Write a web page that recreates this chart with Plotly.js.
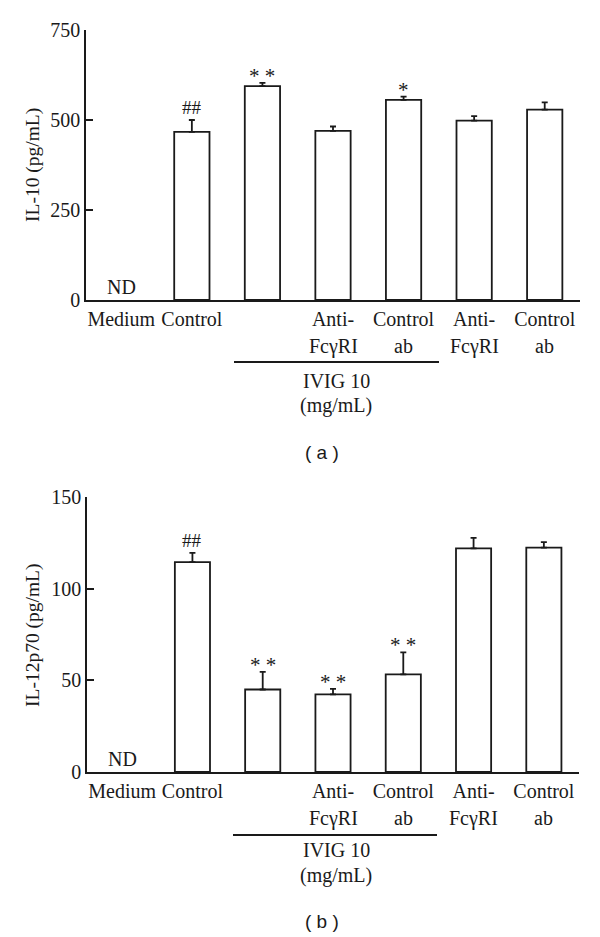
<!DOCTYPE html>
<html>
<head>
<meta charset="utf-8">
<script src="https://cdn.plot.ly/plotly-3.0.1.min.js"></script>
<style>
  body { margin: 0; background: #fff; }
  #chart { width: 600px; height: 937px; }
</style>
</head>
<body>
<div id="chart"></div>
<script>
// categories (one per bar position)
const groups = ["Medium", "Control", "IVIG", "IVIG + Anti-FcγRI", "IVIG + Control ab", "Anti-FcγRI", "Control ab"]
// tick labels are two rows; the second row is drawn as notes under the first
const tick_row1 = ["Medium", "Control", "", "Anti-", "Control", "Anti-", "Control"]
const tick_row2 = ["", "", "", "FcγRI", "ab", "FcγRI", "ab"]

// panel (a) IL-10, medium is not detected
const il10_mean = [null, 467, 594, 470, 556, 498, 529]
const il10_err = [0, 33, 9, 12, 9, 13, 20]
const il10_marks = ["", "##", "* *", "", "*", "", ""]
const il10_ticks = [0, 250, 500, 750]

// panel (b) IL-12p70
const il12_mean = [null, 114.5, 45, 42.3, 53.3, 122, 122.4]
const il12_err = [0, 5, 9.6, 3, 12, 5.7, 3]
const il12_marks = ["", "##", "* *", "* *", "* *", "", ""]
const il12_ticks = [0, 50, 100, 150]

const W = 600, H = 937
const px = (x) => x / W
const py = (y) => 1 - y / H
const SERIF = "Liberation Serif, Times New Roman, serif"
const SANS = "Liberation Sans, Arial, sans-serif"
const BLACK = "#1a1a1a"
const FS = 20

const bar_trace = (y, err, xa, ya) => ({
    type: "bar",
    x: groups,
    y: y,
    xaxis: xa,
    yaxis: ya,
    width: 0.5,
    marker: { color: "white", line: { color: BLACK, width: 1.8 } },
    error_y: {
        type: "data",
        symmetric: false,
        array: err,
        arrayminus: err.map(() => 0),
        color: BLACK,
        thickness: 1.8,
        width: 3
    },
    hoverinfo: "none"
})

const x_axis = (anchor, domain) => ({
    domain: domain,
    anchor: anchor,
    type: "category",
    categoryorder: "array",
    categoryarray: groups,
    range: [-0.5, 6.5],
    tickvals: groups,
    ticktext: tick_row1,
    ticks: "",
    showline: true,
    linecolor: BLACK,
    linewidth: 1.8,
    showgrid: false,
    zeroline: false,
    tickfont: { family: SERIF, size: FS, color: BLACK },
    fixedrange: true
})

const y_axis = (anchor, domain, ticks) => ({
    domain: domain,
    anchor: anchor,
    range: [0, ticks[ticks.length - 1]],
    tickvals: ticks,
    ticks: "inside",
    ticklen: 7,
    tickwidth: 1.8,
    tickcolor: BLACK,
    showline: true,
    linecolor: BLACK,
    linewidth: 1.8,
    showgrid: false,
    zeroline: false,
    tickfont: { family: SERIF, size: FS, color: BLACK },
    fixedrange: true
})

// significance marks sit on top of the error bars
const mark_notes = (marks, mean, err, xr, yr) => marks.map((m, i) => ({
    x: groups[i],
    y: mean[i] + err[i],
    xref: xr,
    yref: yr,
    text: m,
    showarrow: false,
    yanchor: "bottom",
    yshift: m.startsWith("*") ? -7 : 0,
    font: { family: SERIF, size: m.startsWith("*") ? 21 : 19, color: BLACK }
})).filter(a => a.text !== "")

const row2_notes = (xr, y) => tick_row2.map((t, i) => ({
    x: groups[i], y: y, xref: xr, yref: "paper",
    text: t, showarrow: false, yanchor: "middle",
    font: { family: SERIF, size: FS, color: BLACK }
})).filter(a => a.text !== "")

const text_note = (text, x, y, size, extra) => Object.assign({
    x: x, y: y, xref: "paper", yref: "paper",
    text: text, showarrow: false,
    xanchor: "center", yanchor: "middle",
    font: { family: SERIF, size: size, color: BLACK }
}, extra || {})

const annotations = [
    ...mark_notes(il10_marks, il10_mean, il10_err, "x", "y"),
    ...mark_notes(il12_marks, il12_mean, il12_err, "x2", "y2"),
    ...row2_notes("x", py(346)),
    ...row2_notes("x2", py(818)),
    { x: groups[0], y: 0, xref: "x", yref: "y", text: "ND", showarrow: false, yanchor: "bottom",
      font: { family: SERIF, size: FS, color: BLACK } },
    { x: groups[0], y: 0, xref: "x2", yref: "y2", text: "ND", showarrow: false, yanchor: "bottom",
      font: { family: SERIF, size: FS, color: BLACK } },
    text_note("IL-10 (pg/mL)", px(33), py(165), 19.5, { textangle: -90 }),
    text_note("IL-12p70 (pg/mL)", px(33), py(635), 19.5, { textangle: -90 }),
    text_note("IVIG 10", px(336), py(381), FS),
    text_note("(mg/mL)", px(336), py(406), FS),
    text_note("IVIG 10", px(336), py(850), FS),
    text_note("(mg/mL)", px(336), py(875), FS),
    text_note("( a )", px(321.5), py(452), 19, { font: { family: SANS, size: 19, color: BLACK } }),
    text_note("( b )", px(321.5), py(921), 19, { font: { family: SANS, size: 19, color: BLACK } })
]

const shapes = [
    { type: "line", xref: "paper", yref: "paper", x0: px(234), x1: px(439), y0: py(362), y1: py(362),
      line: { color: BLACK, width: 1.8 } },
    { type: "line", xref: "paper", yref: "paper", x0: px(233), x1: px(437), y0: py(835), y1: py(835),
      line: { color: BLACK, width: 1.8 } }
]

const layout = {
    width: W,
    height: H,
    margin: { l: 0, r: 0, t: 0, b: 0 },
    paper_bgcolor: "white",
    plot_bgcolor: "white",
    showlegend: false,
    xaxis: x_axis("y", [px(86), px(580)]),
    yaxis: y_axis("x", [py(300), py(30)], il10_ticks),
    xaxis2: x_axis("y2", [px(87), px(579)]),
    yaxis2: y_axis("x2", [py(772), py(497)], il12_ticks),
    annotations: annotations,
    shapes: shapes
}

Plotly.newPlot("chart", [
    bar_trace(il10_mean, il10_err, "x", "y"),
    bar_trace(il12_mean, il12_err, "x2", "y2")
], layout, { displayModeBar: false, staticPlot: true })
</script>
</body>
</html>
